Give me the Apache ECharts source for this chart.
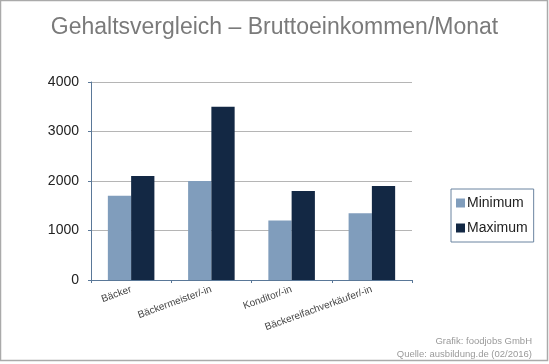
<!DOCTYPE html>
<html><head><meta charset="utf-8">
<script src="https://cdn.jsdelivr.net/npm/echarts@6/dist/echarts.min.js"></script>
<style>html,body{margin:0;padding:0;background:#fff}#c{width:549px;height:364px}</style>
</head><body><div id="c"></div>
<script>
const categories = ['Bäcker', 'Bäckermeister/-in', 'Konditor/-in', 'Bäckereifachverkäufer/-in'];
const minimum = [1700, 2000, 1200, 1350];
const maximum = [2100, 3500, 1800, 1900];
const yTicks = [0, 1000, 2000, 3000, 4000];
const title = 'Gehaltsvergleich – Bruttoeinkommen/Monat';
const credit1 = 'Grafik: foodjobs GmbH';
const credit2 = 'Quelle: ausbildung.de (02/2016)';

const chart = echarts.init(document.getElementById('c'), null, {renderer: 'canvas'});
const font = 'Liberation Sans, Arial, sans-serif';
chart.setOption({
  animation: false,
  textStyle: {fontFamily: font},
  title: {text: title, left: 'center', top: 11,
    textStyle: {fontFamily: font, fontSize: 23, fontWeight: 'normal', color: '#7a7a7a'}},
  graphic: [
    {type: 'rect', shape: {x: 0.5, y: 0.5, width: 547, height: 360},
     style: {fill: 'none', stroke: '#aaaaaa', lineWidth: 1.5}, silent: true},
    {type: 'text', right: 17, top: 336, style: {text: credit1, font: '9.5px ' + font, fill: '#9a9a9a', textAlign: 'right'}},
    {type: 'text', right: 17, top: 349, style: {text: credit2, font: '9.5px ' + font, fill: '#9a9a9a', textAlign: 'right'}}
  ],
  legend: {orient: 'vertical', left: 451, top: 189,
    padding: [7, 6, 7, 5], itemGap: 11,
    borderColor: '#6b84a0', borderWidth: 1,
    itemWidth: 9, itemHeight: 9, icon: 'rect',
    textStyle: {fontFamily: font, fontSize: 14, color: '#222', padding: [0, 0, 0, -3]},
    data: ['Minimum', 'Maximum']},
  grid: {left: 91, right: 137, top: 82, bottom: 84, containLabel: false},
  xAxis: {type: 'category', data: categories,
    axisLine: {lineStyle: {color: '#5a7898', width: 1}},
    axisTick: {show: true, length: 3, alignWithLabel: false, lineStyle: {color: '#5a7898'}},
    axisLabel: {rotate: 20, fontSize: 10, color: '#444', margin: 9, interval: 0}},
  yAxis: {type: 'value', min: 0, max: 4000, interval: 1000,
    axisLine: {show: true, lineStyle: {color: '#5a7898', width: 1}},
    axisTick: {show: true, length: 3, lineStyle: {color: '#5a7898'}},
    splitLine: {lineStyle: {color: '#b5b5b5', width: 1}},
    axisLabel: {fontSize: 14, color: '#222', margin: 12,
      formatter: v => yTicks.includes(v) ? String(v) : ''}},
  series: [
    {name: 'Minimum', type: 'bar', data: minimum, barGap: '0%', barCategoryGap: '42%',
     itemStyle: {color: '#809dbc'}},
    {name: 'Maximum', type: 'bar', data: maximum, barGap: '0%', barCategoryGap: '42%',
     itemStyle: {color: '#132844'}}
  ]
});
</script></body></html>
